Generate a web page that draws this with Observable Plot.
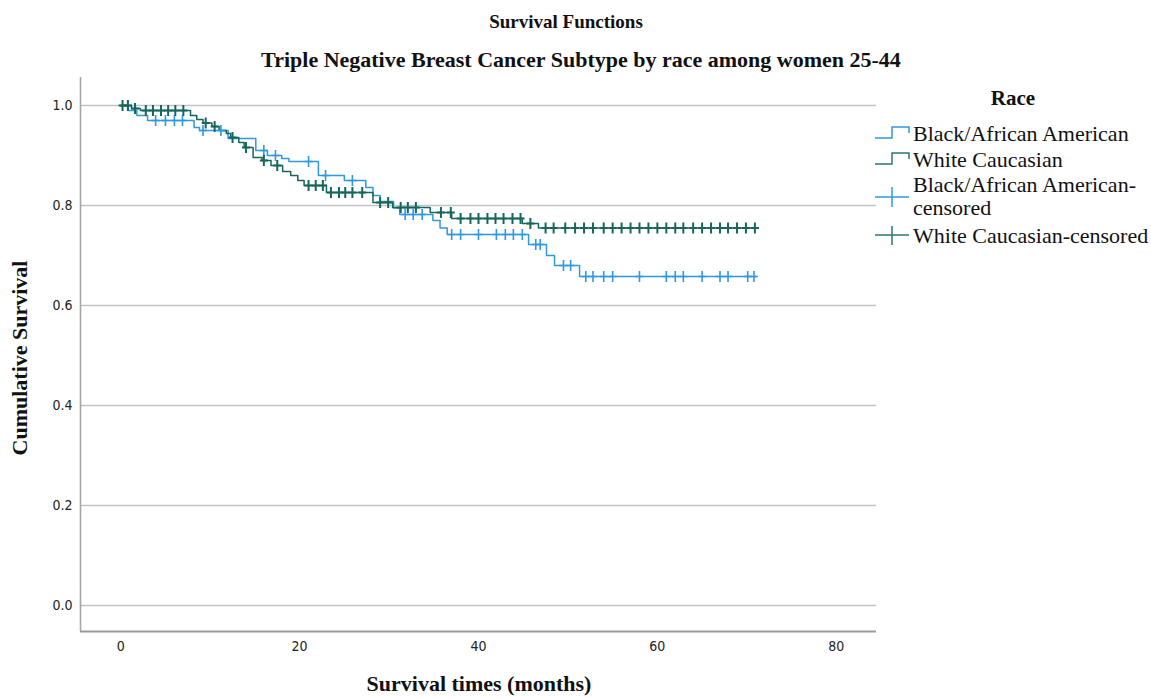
<!DOCTYPE html>
<html>
<head>
<meta charset="utf-8">
<script src="https://cdn.jsdelivr.net/npm/d3@7"></script>
<script src="https://cdn.jsdelivr.net/npm/@observablehq/plot@0.6"></script>
<style>
  body { margin: 0; background: #fff; }
  #chart { width: 1151px; height: 698px; }
</style>
</head>
<body>
<div id="chart"></div>
<script>
// ---- Data ----
const blackTimes = [0, 0.8, 1.8, 3.0, 8.2, 8.8, 12.0, 15.1, 16.4, 18.0, 18.8, 22.1, 25.0, 27.4, 28.2, 29.0, 30.5, 31.2, 34.9, 35.7, 36.5, 45.6, 47.6, 48.5, 51.3, 71.0];
const blackSurv  = [1.0, 0.99, 0.98, 0.97, 0.956, 0.95, 0.934, 0.91, 0.90, 0.894, 0.888, 0.86, 0.85, 0.836, 0.82, 0.808, 0.795, 0.782, 0.77, 0.755, 0.742, 0.722, 0.70, 0.68, 0.658, 0.658];
const blackCensorTimes = [3.9, 5.0, 6.0, 6.9, 9.2, 11.2, 16.0, 17.3, 21.0, 22.9, 25.9, 31.8, 32.7, 33.7, 37.0, 38.0, 40.0, 42.0, 43.0, 43.9, 44.9, 46.4, 46.9, 49.5, 50.3, 52.0, 52.8, 54.0, 55.0, 58.0, 61.0, 62.0, 62.9, 65.0, 67.0, 67.9, 70.1, 70.8];

const whiteTimes = [0, 1.2, 2.2, 7.8, 8.5, 9.2, 10.2, 11.0, 11.8, 12.3, 13.2, 13.8, 14.8, 15.8, 16.8, 18.1, 19.0, 19.8, 20.5, 23.0, 28.2, 30.4, 34.6, 37.0, 44.9, 46.7, 71.0];
const whiteSurv  = [1.0, 0.994, 0.99, 0.98, 0.972, 0.965, 0.958, 0.95, 0.944, 0.936, 0.926, 0.916, 0.896, 0.89, 0.88, 0.868, 0.86, 0.85, 0.84, 0.826, 0.806, 0.796, 0.786, 0.774, 0.764, 0.755, 0.755];
const whiteCensorTimes = [0.2, 0.8, 1.6, 2.8, 3.6, 4.5, 5.3, 6.1, 7.0, 9.5, 10.5, 12.5, 14.0, 16.0, 17.5, 21.0, 21.8, 22.6, 23.5, 24.4, 25.1, 25.9, 27.0, 29.0, 29.9, 31.3, 32.1, 33.0, 35.8, 36.9, 38.0, 39.1, 40.0, 41.0, 41.9, 42.8, 43.8, 44.7, 45.8, 47.5, 48.4, 49.7, 50.8, 51.8, 52.8, 54.0, 55.0, 56.0, 57.0, 58.0, 59.0, 60.0, 61.0, 62.0, 62.9, 64.0, 65.0, 66.0, 67.0, 67.9, 68.9, 69.9, 70.9];

const xTicks = [0, 20, 40, 60, 80];
const yTicks = [0, 0.2, 0.4, 0.6, 0.8, 1.0];
const legendLabels = ["Black/African American", "White Caucasian", "Black/African American-censored", "White Caucasian-censored"];

// ---- Build tables ----
const BLUE = "#2f98e2";
const TEAL = "#17665c";
const toSeries = (ts, ss) => ts.map((t, i) => ({t, s: ss[i]}));
const blackSeries = toSeries(blackTimes, blackSurv);
const whiteSeries = toSeries(whiteTimes, whiteSurv);
function survAt(series, t) {
  let s = series[0].s;
  for (const d of series) if (d.t <= t) s = d.s;
  return s;
}
const blackCens = blackCensorTimes.map(t => ({t, s: survAt(blackSeries, t)}));
const whiteCens = whiteCensorTimes.map(t => ({t, s: survAt(whiteSeries, t)}));

const plusSymbol = {
  draw(ctx) {
    ctx.moveTo(-4, 0); ctx.lineTo(4, 0);
    ctx.moveTo(0, -5.5); ctx.lineTo(0, 5.5);
  }
};

const xDomain = [-4.5, 84.5];
const yDomain = [-0.052, 1.056];

const plot = Plot.plot({
  width: 1151,
  height: 698,
  marginLeft: 80,
  marginRight: 275,
  marginTop: 77,
  marginBottom: 67,
  x: {domain: xDomain},
  y: {domain: yDomain},
  style: {background: "#fff", fontFamily: "'DejaVu Sans Condensed', 'Liberation Sans Narrow', 'DejaVu Sans', sans-serif", fontSize: "14px", color: "#222"},
  marks: [
    Plot.ruleY(yTicks, {stroke: "#c4c4c4", strokeWidth: 1.3}),
    Plot.ruleX([xDomain[0]], {stroke: "#a6a6a6", strokeWidth: 1.6}),
    Plot.ruleY([yDomain[0]], {stroke: "#9a9a9a", strokeWidth: 2}),
    Plot.axisX({ticks: xTicks, tickSize: 0, tickPadding: 10, label: null, fill: "#222"}),
    Plot.axisY({ticks: yTicks, tickSize: 0, tickPadding: 8, tickFormat: d3.format(".1f"), label: null, fill: "#222"}),
    Plot.line(blackSeries, {x: "t", y: "s", curve: "step-after", stroke: BLUE, strokeWidth: 1.5}),
    Plot.line(whiteSeries, {x: "t", y: "s", curve: "step-after", stroke: TEAL, strokeWidth: 1.5}),
    Plot.dot(blackCens, {x: "t", y: "s", symbol: plusSymbol, fill: "none", stroke: BLUE, strokeWidth: 1.6}),
    Plot.dot(whiteCens, {x: "t", y: "s", symbol: plusSymbol, fill: "none", stroke: TEAL, strokeWidth: 2})
  ]
});

const svg = d3.select(plot);
const serif = "'Liberation Serif', 'Times New Roman', serif";

// Titles
svg.append("text").attr("x", 566).attr("y", 28).attr("text-anchor", "middle")
  .attr("font-family", serif).attr("font-weight", "bold").attr("font-size", 19).attr("fill", "#111")
  .text("Survival Functions");
svg.append("text").attr("x", 581).attr("y", 67).attr("text-anchor", "middle")
  .attr("font-family", serif).attr("font-weight", "bold").attr("font-size", 22).attr("fill", "#111")
  .text("Triple Negative Breast Cancer Subtype by race among women 25-44");
// Axis titles
svg.append("text").attr("transform", "translate(27,358) rotate(-90)").attr("text-anchor", "middle")
  .attr("font-family", serif).attr("font-weight", "bold").attr("font-size", 22).attr("fill", "#111")
  .text("Cumulative Survival");
svg.append("text").attr("x", 479).attr("y", 691).attr("text-anchor", "middle")
  .attr("font-family", serif).attr("font-weight", "bold").attr("font-size", 22).attr("fill", "#111")
  .text("Survival times (months)");

// Legend
const lg = svg.append("g").attr("font-family", serif).attr("fill", "#111");
lg.append("text").attr("x", 1013).attr("y", 105).attr("text-anchor", "middle")
  .attr("font-weight", "bold").attr("font-size", 21).text("Race");
lg.append("path").attr("d", "M875,138H892V127H909V133").attr("fill", "none").attr("stroke", BLUE).attr("stroke-width", 1.5);
lg.append("path").attr("d", "M875,164H892V153H909V159").attr("fill", "none").attr("stroke", "#2a7a70").attr("stroke-width", 1.5);
lg.append("path").attr("d", "M875,197H909M892,187V207").attr("fill", "none").attr("stroke", BLUE).attr("stroke-width", 1.5);
lg.append("path").attr("d", "M875,235H909M892,226V245").attr("fill", "none").attr("stroke", "#2a7a70").attr("stroke-width", 1.5);
const lt = (x, y, s) => lg.append("text").attr("x", x).attr("y", y).attr("text-anchor", "start").attr("font-size", 22).text(s);
lt(913, 141, legendLabels[0]);
lt(913, 167, legendLabels[1]);
lt(913, 192, "Black/African American-");
lt(913, 215, "censored");
lt(913, 243, legendLabels[3]);

document.getElementById("chart").appendChild(plot);
</script>
</body>
</html>
